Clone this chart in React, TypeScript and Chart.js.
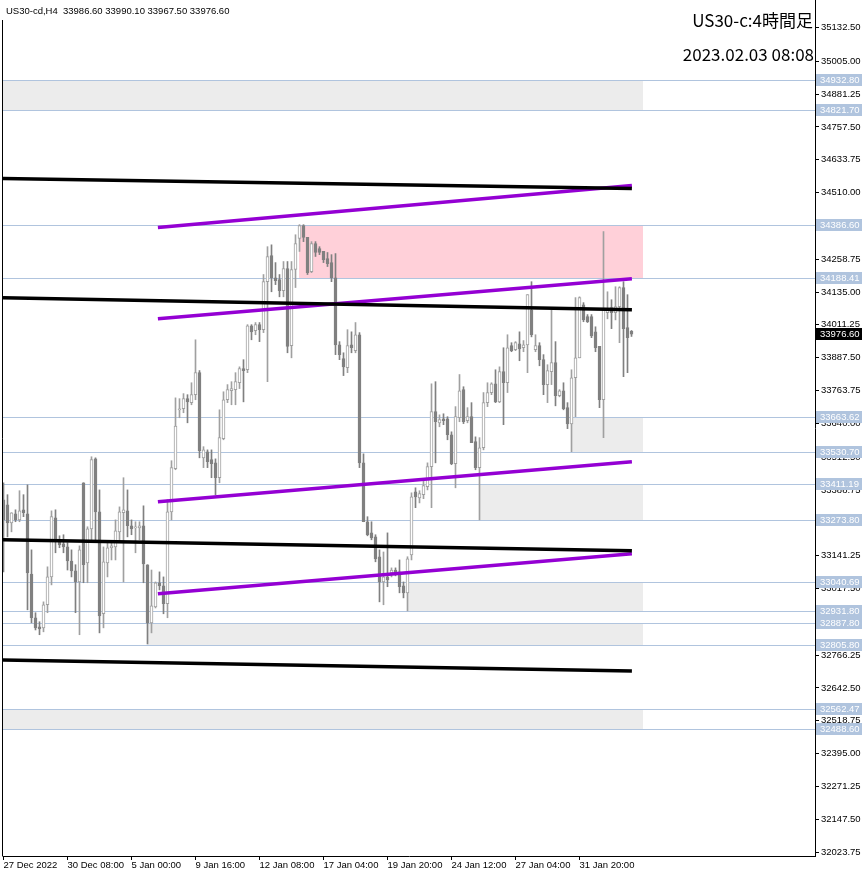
import React, { useEffect, useRef } from "react";
import { Chart, registerables } from "chart.js";

Chart.register(...registerables);

// ---- data (H4 bars, index 0 = 27 Dec 2022) ----
const OPEN = [
  33352, 33333, 33265, 33299, 33276, 33314, 33299, 33072, 32907, 32873,
  32869, 32956, 33061, 33284, 33201, 33186, 33174, 33121, 33084, 33042,
  33416, 33114, 33242, 33506, 33306, 32922, 33114, 33171, 33174, 33231,
  33303, 33310, 33254, 33246, 33246, 33254, 33107, 32888, 32948, 33039,
  33027, 32960, 33306, 33469, 33691, 33695, 33733, 33718, 33748, 33831,
  33510, 33533, 33503, 33491, 33435, 33582, 33729, 33763, 33767, 33793,
  33846, 33842, 34008, 33989, 34012, 33993, 34174, 34272, 34189, 34182,
  34140, 34223, 33933, 34220, 34337, 34386, 34341, 34212, 34318, 34299,
  34288, 34261, 34246, 34189, 33936, 33884, 33850, 33936, 33914, 33974,
  33491, 33269, 33227, 33212, 33137, 33042, 33061, 33076, 33087, 33080,
  33027, 33001, 33144, 33382, 33359, 33371, 33401, 33477, 33684, 33642,
  33657, 33657, 33597, 33488, 33661, 33767, 33650, 33665, 33571, 33473,
  33548, 33718, 33756, 33789, 33721, 33835, 33793, 33933, 33918, 33940,
  33925, 33936, 34068, 33918, 33933, 33880, 33786, 33835, 33869, 33744,
  33763, 33699, 33638, 33812, 33887, 34087, 34042, 34042, 33985, 33930,
  33729, 34057, 34076, 34057, 34080, 34152, 34001, 33986.6,
];
const HIGH = [
  33416, 33371, 33303, 33314, 33386, 33371, 33408, 33163, 32926, 32892,
  32967, 33099, 33310, 33314, 33216, 33220, 33190, 33163, 33107, 33178,
  33416, 33250, 33514, 33510, 33389, 33174, 33190, 33190, 33276, 33325,
  33435, 33389, 33276, 33269, 33269, 33329, 33107, 33087, 33042, 33080,
  33061, 33352, 33499, 33736, 33733, 33752, 33748, 33793, 33955, 33839,
  33552, 33540, 33540, 33506, 33691, 33759, 33786, 33797, 33831, 33853,
  33880, 34012, 34012, 34020, 34020, 34201, 34306, 34313, 34246, 34201,
  34250, 34250, 34250, 34351, 34389, 34389, 34341, 34325, 34325, 34306,
  34288, 34284, 34276, 34280, 33948, 33906, 33993, 33985, 34020, 33982,
  33525, 33288, 33269, 33220, 33163, 33155, 33227, 33095, 33095, 33125,
  33042, 33137, 33378, 33397, 33386, 33427, 33491, 33789, 33797, 33672,
  33676, 33665, 33608, 33703, 33824, 33778, 33699, 33718, 33589, 33586,
  33756, 33793, 33793, 33842, 33853, 33925, 33974, 33944, 33948, 33985,
  33952, 34125, 34174, 33974, 33944, 33899, 33861, 34068, 33948, 33767,
  33793, 33718, 33842, 34114, 34117, 34095, 34050, 34050, 34004, 33930,
  34363, 34136, 34106, 34155, 34155, 34174, 34125, 33990.1,
];
const LOW = [
  33080, 33212, 33231, 33269, 33269, 33288, 32937, 32888, 32861, 32843,
  32854, 32926, 33031, 33152, 33171, 33152, 33087, 33061, 32926, 32843,
  33039, 33039, 33201, 33190, 32850, 32869, 33061, 33125, 33125, 33193,
  33042, 33212, 33220, 33152, 33201, 33039, 32808, 32850, 32944, 33012,
  32922, 32907, 33276, 33465, 33661, 33680, 33642, 33710, 33729, 33510,
  33473, 33473, 33435, 33371, 33416, 33578, 33718, 33710, 33710, 33771,
  33721, 33831, 33955, 33974, 33948, 33982, 33797, 34136, 34163, 34117,
  34117, 33906, 33887, 34152, 34288, 34325, 34201, 34208, 34269, 34276,
  34246, 34231, 34174, 33899, 33880, 33820, 33831, 33906, 33906, 33473,
  33269, 33216, 33201, 33118, 32967, 32956, 33024, 33061, 33065, 33001,
  32982, 32933, 33125, 33322, 33340, 33356, 33389, 33322, 33491, 33627,
  33635, 33578, 33484, 33397, 33646, 33639, 33642, 33567, 33465, 33276,
  33540, 33703, 33748, 33718, 33718, 33635, 33756, 33910, 33914, 33876,
  33910, 33831, 33966, 33910, 33857, 33748, 33718, 33786, 33706, 33740,
  33691, 33620, 33533, 33665, 33887, 34023, 34020, 33963, 33910, 33699,
  33586, 34034, 33997, 34030, 33944, 33816, 33831, 33967.5,
];
const CLOSE = [
  33276, 33265, 33303, 33276, 33310, 33303, 33076, 32907, 32869, 32865,
  32956, 33061, 33288, 33201, 33182, 33174, 33121, 33084, 33042, 33163,
  33107, 33242, 33503, 33306, 32914, 33118, 33171, 33178, 33235, 33306,
  33314, 33254, 33242, 33250, 33254, 33110, 32888, 32952, 33039, 33027,
  32960, 33306, 33473, 33630, 33695, 33733, 33721, 33748, 33831, 33537,
  33540, 33495, 33488, 33435, 33586, 33729, 33767, 33771, 33797, 33846,
  33839, 34008, 33985, 34012, 33993, 34174, 34269, 34189, 34178, 34140,
  34223, 33930, 34220, 34318, 34386, 34341, 34208, 34318, 34284, 34284,
  34257, 34242, 34189, 33936, 33899, 33853, 33933, 33925, 33974, 33491,
  33269, 33220, 33208, 33129, 33042, 33061, 33050, 33087, 33076, 33024,
  33001, 33129, 33363, 33363, 33375, 33405, 33477, 33684, 33646, 33654,
  33650, 33597, 33488, 33665, 33763, 33646, 33665, 33567, 33473, 33548,
  33718, 33756, 33789, 33721, 33835, 33793, 33925, 33914, 33944, 33921,
  33936, 34125, 33974, 33933, 33880, 33786, 33839, 33869, 33744, 33763,
  33695, 33638, 33812, 33887, 34114, 34030, 34023, 33970, 33925, 33729,
  34068, 34068, 34057, 34080, 34152, 33997, 33963, 33976.6,
];

const X_TICK_BARS = [0, 16, 32, 48, 64, 80, 96, 112, 128, 144];
const X_TICK_LABELS = [
  "27 Dec 2022", "30 Dec 08:00", "5 Jan 00:00", "9 Jan 16:00", "12 Jan 08:00",
  "17 Jan 04:00", "19 Jan 20:00", "24 Jan 12:00", "27 Jan 04:00", "31 Jan 20:00",
];
const Y_TICKS = [
  32023.75, 32147.5, 32271.25, 32395.0, 32518.75, 32642.5, 32766.25, 32893.75,
  33017.5, 33141.25, 33265.0, 33388.75, 33512.5, 33640.0, 33763.75, 33887.5,
  34011.25, 34135.0, 34258.75, 34382.5, 34510.0, 34633.75, 34757.5, 34881.25,
  35005.0, 35132.5,
];

// horizontal price levels
const LEVELS = [
  34932.8, 34821.7, 34386.6, 34188.41, 33663.62, 33530.7, 33411.19, 33273.8,
  33040.69, 32931.8, 32887.8, 32805.8, 32562.47, 32488.6,
];

// zones (bar-index start/end, price top/bottom, kind)
const ZONE_START = [-5, 73.9, 142, 118.9, 101, 36, -5];
const ZONE_END = [159.75, 159.75, 159.75, 159.75, 159.75, 159.75, 159.75];
const ZONE_TOP = [34932.8, 34386.6, 33663.62, 33411.19, 33040.69, 32887.8, 32562.47];
const ZONE_BOTTOM = [34821.7, 34188.41, 33530.7, 33273.8, 32931.8, 32805.8, 32488.6];
const ZONE_KIND = ["support", "resistance", "support", "support", "support", "support", "support"];

// trend lines (bar index / price)
const TREND_X1 = [-0.125, -0.125, -0.125, -0.125, 38.6, 38.6, 38.6, 38.6];
const TREND_P1 = [34562.8, 34113.9, 33200.9, 32748.2, 34378.0, 34034.6, 33344.2, 32997.1];
const TREND_X2 = [157.1, 157.1, 157.1, 157.1, 157.1, 157.1, 157.1, 157.1];
const TREND_P2 = [34525.1, 34068.6, 33159.4, 32706.7, 34536.4, 34185.5, 33495.1, 33148.1];
const TREND_KIND = ["channel", "channel", "channel", "channel", "trend", "trend", "trend", "trend"];

const SYMBOL = "US30-cd";
const TIMEFRAME = "H4";
const TITLE = "US30-c:4時間足";
const TIMESTAMP = "2023.02.03 08:08";

const LABEL_FONT = '9.5px "Liberation Sans"';
const BULL = "#a0a0a0";
const BEAR = "#808080";

const isBull = (i: number) => CLOSE[i] >= OPEN[i];

const overlayPlugin = {
  id: "mt4overlay",
  beforeDatasetsDraw(chart: any) {
    const { ctx, chartArea, scales } = chart;
    const x = scales.x;
    const y = scales.y;
    ctx.save();
    ctx.beginPath();
    ctx.rect(chartArea.left, chartArea.top, chartArea.right - chartArea.left, chartArea.bottom - chartArea.top);
    ctx.clip();
    for (let i = 0; i < ZONE_START.length; i++) {
      const x1 = Math.round(x.getPixelForValue(ZONE_START[i]));
      const x2 = Math.round(x.getPixelForValue(ZONE_END[i]));
      const y1 = Math.round(y.getPixelForValue(ZONE_TOP[i]));
      const y2 = Math.round(y.getPixelForValue(ZONE_BOTTOM[i]));
      ctx.fillStyle = ZONE_KIND[i] === "resistance" ? "#ffd0d9" : "#ececec";
      ctx.fillRect(x1, y1, x2 - x1, y2 - y1);
    }
    ctx.strokeStyle = "#b0c4de";
    ctx.lineWidth = 1;
    for (const L of LEVELS) {
      const yy = Math.round(y.getPixelForValue(L)) + 0.5;
      ctx.beginPath();
      ctx.moveTo(chartArea.left, yy);
      ctx.lineTo(chartArea.right, yy);
      ctx.stroke();
    }
    ctx.restore();
  },
  afterDraw(chart: any) {
    const { ctx, chartArea, scales } = chart;
    const y = scales.y;
    ctx.save();
    ctx.strokeStyle = "#000";
    ctx.lineWidth = 1;
    ctx.beginPath();
    ctx.moveTo(2.5, 20);
    ctx.lineTo(2.5, chartArea.bottom + 0.5);
    ctx.stroke();

    ctx.font = LABEL_FONT;
    ctx.textAlign = "left";
    ctx.textBaseline = "middle";
    for (const L of LEVELS) {
      const yy = Math.round(y.getPixelForValue(L));
      ctx.fillStyle = "#b0c4de";
      ctx.fillRect(816, yy - 6, 46, 12);
      ctx.fillStyle = "#ffffff";
      ctx.fillText(L.toFixed(2), 820, yy + 0.5);
    }
    const last = CLOSE.length - 1;
    const cy = Math.round(y.getPixelForValue(CLOSE[last]));
    ctx.fillStyle = "#000";
    ctx.fillRect(816, cy - 6, 46, 12);
    ctx.fillStyle = "#fff";
    ctx.fillText(CLOSE[last].toFixed(2), 820, cy + 0.5);

    ctx.fillStyle = "#000";
    ctx.textBaseline = "alphabetic";
    const header = `${SYMBOL},${TIMEFRAME}  ${OPEN[last].toFixed(2)} ${HIGH[last].toFixed(2)} ${LOW[last].toFixed(2)} ${CLOSE[last].toFixed(2)}`;
    ctx.fillText(header, 6, 14);

    ctx.font = '17px "Noto Sans CJK JP"';
    ctx.textAlign = "right";
    ctx.fillText(TITLE, 813, 26.5);
    ctx.fillText(TIMESTAMP, 814, 60.5);
    ctx.restore();
  },
};

export default function App() {
  const ref = useRef<HTMLCanvasElement | null>(null);
  useEffect(() => {
    if (!ref.current) return;
    const bodies = OPEN.map((o, i) => ({ x: i, y: [o, CLOSE[i]] }));
    const wicks = LOW.map((l, i) => ({ x: i, y: [l, HIGH[i]] }));
    const trendSets = TREND_X1.map((x1, i) => ({
      type: "line" as const,
      data: [
        { x: x1, y: TREND_P1[i] },
        { x: TREND_X2[i], y: TREND_P2[i] },
      ],
      borderColor: TREND_KIND[i] === "channel" ? "#000000" : "#9400d3",
      borderWidth: 3.5,
      pointRadius: 0,
      fill: false,
      order: 0,
    }));
    const chart = new Chart(ref.current, {
      type: "bar",
      data: {
        datasets: [
          ...trendSets,
          {
            type: "bar",
            data: bodies as any,
            backgroundColor: (c: any) => (isBull(c.dataIndex) ? "#ffffff" : BEAR),
            borderColor: (c: any) => (isBull(c.dataIndex) ? BULL : BEAR),
            borderWidth: 1,
            borderSkipped: false,
            barThickness: 3,
            minBarLength: 1,
            grouped: false,
            order: 1,
          },
          {
            type: "bar",
            data: wicks as any,
            backgroundColor: (c: any) => (isBull(c.dataIndex) ? BULL : BEAR),
            borderWidth: 0,
            barThickness: 1,
            grouped: false,
            order: 2,
          },
        ] as any,
      },
      options: {
        responsive: false,
        animation: false,
        devicePixelRatio: 1,
        events: [],
        layout: { padding: { left: 3, top: 0, right: 0, bottom: 0 } },
        plugins: { legend: { display: false }, tooltip: { enabled: false } },
        scales: {
          x: {
            type: "linear",
            min: -0.125,
            max: 202.875,
            offset: false,
            grid: { display: true, drawOnChartArea: false, drawTicks: true, tickLength: 4, color: "#000", offset: false },
            border: { display: true, color: "#000", width: 1 },
            ticks: {
              autoSkip: false,
              maxRotation: 0,
              minRotation: 0,
              align: "start",
              padding: 0,
              color: "#000",
              font: { family: '"Liberation Sans"', size: 9.5 },
              callback: (_v: any, i: number) => X_TICK_LABELS[i] ?? "",
            },
            afterBuildTicks: (s: any) => {
              s.ticks = X_TICK_BARS.map((v) => ({ value: v }));
            },
            afterFit: (s: any) => {
              s.height = 20;
              s.paddingLeft = 0;
              s.paddingRight = 0;
            },
          },
          y: {
            type: "linear",
            position: "right",
            min: 32008.8,
            max: 35236.0,
            grid: { display: true, drawOnChartArea: false, drawTicks: true, tickLength: 4, color: "#000" },
            border: { display: true, color: "#000", width: 1 },
            ticks: {
              autoSkip: false,
              padding: 2,
              color: "#000",
              font: { family: '"Liberation Sans"', size: 9.5 },
              callback: (v: any) => Number(v).toFixed(2),
            },
            afterBuildTicks: (s: any) => {
              s.ticks = Y_TICKS.map((v) => ({ value: v }));
            },
            afterFit: (s: any) => {
              s.width = 51;
              s.paddingTop = 0;
              s.paddingBottom = 0;
            },
          },
        },
      } as any,
      plugins: [overlayPlugin],
    });
    return () => chart.destroy();
  }, []);
  return (
    <div style={{ position: "absolute", left: 0, top: 0, width: 866, height: 876, background: "#fff" }}>
      <canvas ref={ref} width={866} height={876} style={{ display: "block" }} />
    </div>
  );
}
